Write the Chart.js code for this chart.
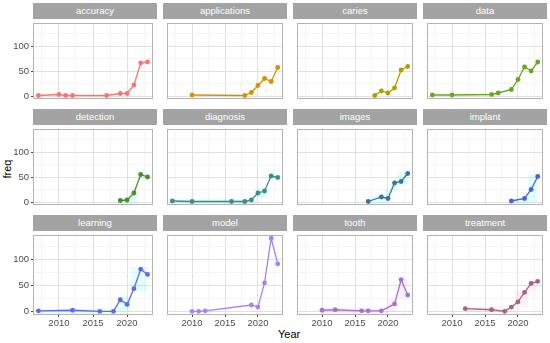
<!DOCTYPE html>
<html lang="en">
<head>
    <meta charset="UTF-8">
    <title>freq by Year</title>
    <script src="https://cdn.jsdelivr.net/npm/chart.js"></script>
    <style>
        body {
            margin: 0;
            width: 550px;
            height: 343px;
            position: relative;
            background: #fff;
            font-family: "Liberation Sans", Arial, sans-serif;
            overflow: hidden;
        }
        .strip {
            position: absolute;
            height: 16px;
            background: #a3a3a3;
            color: #fff;
            font-size: 9.5px;
            line-height: 16px;
            text-align: center;
        }
        canvas {
            position: absolute;
        }
        .title {
            position: absolute;
            font-size: 11px;
            color: #000;
        }
    </style>
</head>
<body>

<div class="title" style="left:-2px; top:163px; transform:rotate(-90deg);">freq</div>
<div class="title" style="left:278px; top:328px;">Year</div>

<script>
// Dados de cada termo (ano, frequencia)
const terms = ['accuracy', 'applications', 'caries', 'data', 'detection', 'diagnosis',
               'images', 'implant', 'learning', 'model', 'tooth', 'treatment'];

const accuracyYears = [2007, 2010, 2011, 2012, 2017, 2019, 2020, 2021, 2022, 2023];
const accuracyFreq  = [1, 3, 1, 1, 1, 5, 5, 22, 66, 68];
const applicationsYears = [2010, 2018, 2019, 2020, 2021, 2022, 2023];
const applicationsFreq  = [2, 1, 7, 21, 35, 29, 57];
const cariesYears = [2018, 2019, 2020, 2021, 2022, 2023];
const cariesFreq  = [1, 10, 6, 16, 52, 59];
const dataYears = [2007, 2010, 2016, 2017, 2019, 2020, 2021, 2022, 2023];
const dataFreq  = [2, 2, 3, 6, 13, 33, 58, 50, 68];
const detectionYears = [2019, 2020, 2021, 2022, 2023];
const detectionFreq  = [3, 4, 18, 55, 50];
const diagnosisYears = [2007, 2010, 2016, 2018, 2019, 2020, 2021, 2022, 2023];
const diagnosisFreq  = [2, 1, 1, 1, 4, 18, 22, 52, 49];
const imagesYears = [2017, 2019, 2020, 2021, 2022, 2023];
const imagesFreq  = [1, 10, 7, 38, 41, 57];
const implantYears = [2019, 2021, 2022, 2023];
const implantFreq  = [2, 7, 25, 51];
const learningYears = [2007, 2012, 2016, 2018, 2019, 2020, 2021, 2022, 2023];
const learningFreq  = [2, 3, 1, 1, 23, 14, 44, 81, 71];
const modelYears = [2010, 2011, 2012, 2019, 2020, 2021, 2022, 2023];
const modelFreq  = [1, 1, 2, 13, 9, 55, 140, 91];
const toothYears = [2010, 2012, 2016, 2017, 2019, 2021, 2022, 2023];
const toothFreq  = [3, 4, 2, 2, 2, 15, 61, 32];
const treatmentYears = [2012, 2016, 2018, 2019, 2020, 2021, 2022, 2023];
const treatmentFreq  = [6, 4, 1, 9, 19, 37, 54, 58];

// faixas claras (limite inferior / superior em cada ano)
const detectionLow  = [-6, -6, -6, 44, 44];
const detectionHigh = [8, 8, 25, 58, 58];
const diagnosisLow  = [-6, -6, -6, -6, -6, 10, 10, 45, 45];
const diagnosisHigh = [7, 7, 7, 7, 7, 27, 27, 55, 55];
const imagesLow  = [-3, -3, 0, 20, 35, 35];
const imagesHigh = [12, 12, 25, 45, 60, 60];
const implantLow  = [-3, -3, 0, 0];
const implantHigh = [7, 7, 55, 55];
const learningLow  = [-4, -4, -4, -4, 0, 0, 40, 40, 40];
const learningHigh = [6, 6, 6, 6, 30, 30, 85, 85, 85];
const toothLow  = [-2, -2, -2, -2, -2, 0, 25, 25];
const toothHigh = [7, 7, 7, 7, 7, 25, 65, 65];
const treatmentLow  = [-1, -1, -1, -1, 10, 10, 40, 40];
const treatmentHigh = [9, 9, 9, 9, 40, 40, 62, 62];

const xMajor = [2010, 2015, 2020];
const xMinor = [2007.5, 2012.5, 2017.5, 2022.5];
const yMajor = [0, 50, 100];
const yMinor = [25, 75, 125];

const termYears = [accuracyYears, applicationsYears, cariesYears, dataYears, detectionYears, diagnosisYears,
                   imagesYears, implantYears, learningYears, modelYears, toothYears, treatmentYears];
const termFreq = [accuracyFreq, applicationsFreq, cariesFreq, dataFreq, detectionFreq, diagnosisFreq,
                  imagesFreq, implantFreq, learningFreq, modelFreq, toothFreq, treatmentFreq];
const bandLow = [null, null, null, null, detectionLow, diagnosisLow,
                 imagesLow, implantLow, learningLow, null, toothLow, treatmentLow];
const bandHigh = [null, null, null, null, detectionHigh, diagnosisHigh,
                  imagesHigh, implantHigh, learningHigh, null, toothHigh, treatmentHigh];
const cores = ['#F8766D', '#DB8E00', '#B09F00', '#66A81C', '#4F8A2B', '#3E8E86',
               '#41709F', '#4A62D8', '#6767E6', '#A484F2', '#A474CC', '#A5657F'];
const ciano = 'rgba(0,255,240,0.12)';
const rosa = 'rgba(255,90,200,0.09)';
const bandCores = ['', '', '', '', ciano, ciano, ciano, ciano, ciano, '', rosa, rosa];

// geometria dos paineis
const colLeft = [33, 163, 293, 423];
const rowTop = [3, 109, 215];
const panelW = 124;
const panelH = 84;
const stripH = 16;
const yAxisW = 33;
const xAxisH = 14;

// borda do painel
const borderPlugin = {
    id: 'panelBorder',
    afterDraw(chart) {
        const a = chart.chartArea;
        const ctx = chart.ctx;
        ctx.save();
        ctx.strokeStyle = '#b3b3b3';
        ctx.lineWidth = 1;
        ctx.strokeRect(a.left + 0.5, a.top + 0.5, a.right - a.left - 1, a.bottom - a.top - 1);
        ctx.restore();
    }
};

function gridColor(majors) {
    return c => majors.includes(c.tick.value) ? '#dedede' : '#efefef';
}
function gridWidth(majors) {
    return c => majors.includes(c.tick.value) ? 0.9 : 0.6;
}
function tickColor(majors) {
    return c => majors.includes(c.tick.value) ? '#333333' : 'rgba(0,0,0,0)';
}

terms.forEach((term, i) => {
    const col = i % 4;
    const row = Math.floor(i / 4);

    const strip = document.createElement('div');
    strip.className = 'strip';
    strip.style.left = colLeft[col] + 'px';
    strip.style.top = rowTop[row] + 'px';
    strip.style.width = panelW + 'px';
    strip.textContent = term;
    document.body.appendChild(strip);

    const showY = col === 0;
    const showX = row === 2;
    const w = panelW + (showY ? yAxisW : 0);
    const h = panelH + (showX ? xAxisH : 0);

    const canvas = document.createElement('canvas');
    canvas.width = w;
    canvas.height = h;
    canvas.style.width = w + 'px';
    canvas.style.height = h + 'px';
    canvas.style.left = (colLeft[col] - (showY ? yAxisW : 0)) + 'px';
    canvas.style.top = (rowTop[row] + stripH) + 'px';
    document.body.appendChild(canvas);

    const pontos = termYears[i].map((ano, k) => ({ x: ano, y: termFreq[i][k] }));
    const datasets = [{
        data: pontos,
        borderColor: cores[i],
        backgroundColor: cores[i],
        borderWidth: 1.3,
        pointRadius: 2.4,
        pointBorderWidth: 0,
        tension: 0,
        clip: false,
        order: 1
    }];
    if (bandLow[i]) {
        datasets.push({
            data: termYears[i].map((ano, k) => ({ x: ano, y: bandLow[i][k] })),
            stepped: 'middle',
            borderWidth: 0,
            pointRadius: 0,
            fill: false,
            order: 2
        }, {
            data: termYears[i].map((ano, k) => ({ x: ano, y: bandHigh[i][k] })),
            stepped: 'middle',
            borderWidth: 0,
            pointRadius: 0,
            backgroundColor: bandCores[i],
            fill: '-1',
            order: 2
        });
    }

    new Chart(canvas.getContext('2d'), {
        type: 'line',
        data: { datasets: datasets },
        options: {
            responsive: false,
            animation: false,
            devicePixelRatio: 1,
            layout: { padding: 0 },
            plugins: { legend: { display: false }, tooltip: { enabled: false } },
            scales: {
                x: {
                    type: 'linear',
                    min: 2006.2,
                    max: 2023.8,
                    afterBuildTicks: s => { s.ticks = [...xMinor, ...xMajor].sort().map(v => ({ value: v })); },
                    afterFit: s => {
                        s.height = showX ? xAxisH : 0;
                        s.paddingLeft = 0;
                        s.paddingRight = 0;
                    },
                    border: { display: false },
                    grid: {
                        color: gridColor(xMajor),
                        lineWidth: gridWidth(xMajor),
                        drawTicks: showX,
                        tickLength: 2,
                        tickColor: tickColor(xMajor)
                    },
                    ticks: {
                        display: showX,
                        autoSkip: false,
                        maxRotation: 0,
                        padding: 1,
                        color: '#4d4d4d',
                        font: { family: '"Liberation Sans", Arial, sans-serif', size: 9.5 },
                        callback: v => xMajor.includes(v) ? String(v) : ''
                    }
                },
                y: {
                    type: 'linear',
                    min: -6,
                    max: 146,
                    afterBuildTicks: s => { s.ticks = [...yMajor, ...yMinor].sort((a, b) => a - b).map(v => ({ value: v })); },
                    afterFit: s => {
                        s.width = showY ? yAxisW : 0;
                        s.paddingTop = 0;
                        s.paddingBottom = 0;
                    },
                    border: { display: false },
                    grid: {
                        color: gridColor(yMajor),
                        lineWidth: gridWidth(yMajor),
                        drawTicks: showY,
                        tickLength: 2,
                        tickColor: tickColor(yMajor)
                    },
                    ticks: {
                        display: showY,
                        autoSkip: false,
                        padding: 2,
                        color: '#4d4d4d',
                        font: { family: '"Liberation Sans", Arial, sans-serif', size: 9.5 },
                        callback: v => yMajor.includes(v) ? String(v) : ''
                    }
                }
            }
        },
        plugins: [borderPlugin]
    });
});
</script>
</body>
</html>
